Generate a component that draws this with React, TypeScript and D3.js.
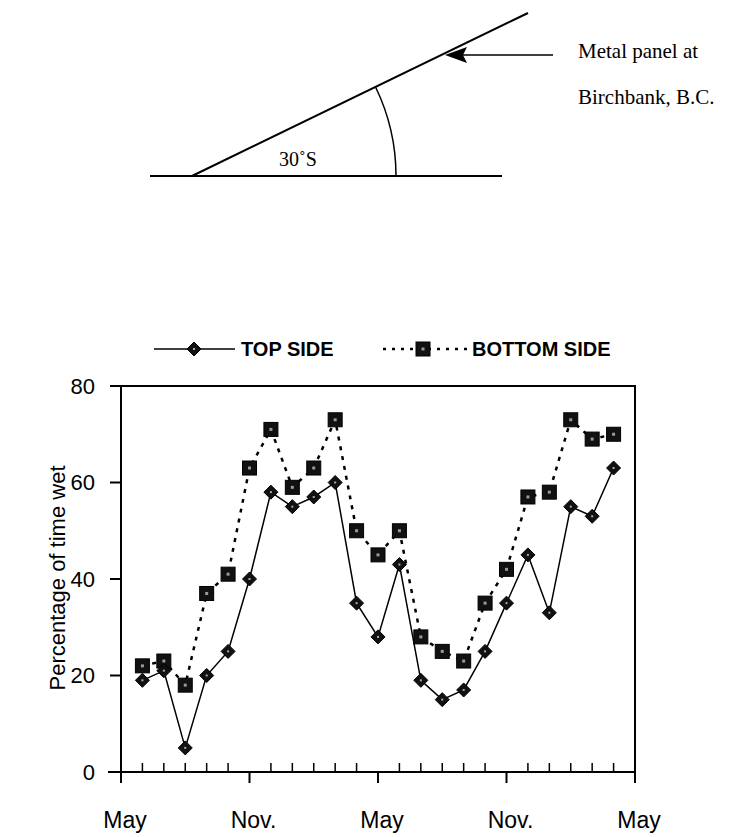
import React from "react";
import * as d3 from "d3";

const months = ["Jun","Jul","Aug","Sep","Oct","Nov","Dec","Jan","Feb","Mar","Apr","May","Jun","Jul","Aug","Sep","Oct","Nov","Dec","Jan","Feb","Mar","Apr"];
const topSide = [19, 21, 5, 20, 25, 40, 58, 55, 57, 60, 35, 28, 43, 19, 15, 17, 25, 35, 45, 33, 55, 53, 63];
const bottomSide = [22, 23, 18, 37, 41, 63, 71, 59, 63, 73, 50, 45, 50, 28, 25, 23, 35, 42, 57, 58, 73, 69, 70];
const majorTicks = [0, 6, 12, 18, 24];
const majorLabels = ["May", "Nov.", "May", "Nov.", "May"];
const yTicks = [0, 20, 40, 60, 80];

const W = 734, H = 837;
const sans = "'Liberation Sans', Arial, sans-serif";
const serif = "'Liberation Serif', 'Times New Roman', serif";

export default function App() {
  const x = d3.scaleLinear().domain([0, 24]).range([121, 635]);
  const y = d3.scaleLinear().domain([0, 80]).range([772, 386]);
  const idx = months.map((_, i) => i + 1);

  const topPts = idx.map((m, i) => [m, topSide[i]] as [number, number]);
  const botPts = idx.map((m, i) => [m, bottomSide[i]] as [number, number]);
  const lineGen = d3.line<[number, number]>().x((d) => x(d[0])).y((d) => y(d[1]));

  const diamond = (cx: number, cy: number, key: string | number) => (
    <g key={key}>
      <path d={`M${cx},${cy - 7}L${cx + 7},${cy}L${cx},${cy + 7}L${cx - 7},${cy}Z`} fill="#111" stroke="#000" strokeWidth={1} />
      <rect x={cx - 1} y={cy - 1} width={2} height={2} fill="#aaa" />
    </g>
  );
  const square = (cx: number, cy: number, key: string | number) => (
    <g key={key}>
      <rect x={cx - 7} y={cy - 7} width={14} height={14} fill="#111" stroke="#000" strokeWidth={1} />
      <rect x={cx - 1.5} y={cy - 1.5} width={3} height={3} fill="#999" />
    </g>
  );

  const minor = idx.filter((m) => !majorTicks.includes(m));

  const ox = 192, oy = 176;
  const ex = 528, ey = 13;
  const ang = Math.atan2(oy - ey, ex - ox);
  const r = 204;
  const arcPath = `M${ox + r},${oy} A${r},${r} 0 0 0 ${ox + r * Math.cos(ang)},${oy - r * Math.sin(ang)}`;

  return (
    <svg width={W} height={H} style={{ position: "absolute", left: 0, top: 0, background: "#fff" }}>
      {/* top diagram */}
      <line x1={150} y1={176} x2={502} y2={176} stroke="#000" strokeWidth={2} />
      <line x1={ox} y1={oy} x2={ex} y2={ey} stroke="#000" strokeWidth={2} />
      <path d={arcPath} fill="none" stroke="#000" strokeWidth={1.5} />
      <text x={279} y={166} fontFamily={serif} fontSize={20}>30˚S</text>
      <line x1={462} y1={55} x2={553} y2={55} stroke="#000" strokeWidth={1.5} />
      <path d="M445,55 L467,47 L463,55 L467,63 Z" fill="#000" />
      <text x={578} y={58} fontFamily={serif} fontSize={21}>Metal panel at</text>
      <text x={578} y={104} fontFamily={serif} fontSize={21}>Birchbank, B.C.</text>

      {/* legend */}
      <line x1={154} y1={349} x2={235} y2={349} stroke="#000" strokeWidth={1.5} />
      {diamond(194, 349, "ld")}
      <text x={241} y={356} fontFamily={sans} fontWeight="bold" fontSize={20}>TOP SIDE</text>
      <line x1={383} y1={349} x2={470} y2={349} stroke="#000" strokeWidth={2.5} strokeDasharray="3,6" />
      {square(423, 349, "ls")}
      <text x={472} y={356} fontFamily={sans} fontWeight="bold" fontSize={20}>BOTTOM SIDE</text>

      {/* frame */}
      <line x1={110} y1={386} x2={636} y2={386} stroke="#000" strokeWidth={2} />
      <line x1={635} y1={385} x2={635} y2={783} stroke="#000" strokeWidth={2} />
      <line x1={121} y1={385} x2={121} y2={783} stroke="#000" strokeWidth={2} />
      <line x1={108} y1={772} x2={636} y2={772} stroke="#000" strokeWidth={2} />
      {yTicks.map((t) => (
        <g key={"y" + t}>
          <line x1={110} y1={y(t)} x2={121} y2={y(t)} stroke="#000" strokeWidth={2} />
          <text x={95} y={y(t)} dy="0.36em" textAnchor="end" fontFamily={sans} fontSize={22}>{t}</text>
        </g>
      ))}
      {majorTicks.map((t, i) => (
        <g key={"x" + t}>
          <line x1={x(t)} y1={772} x2={x(t)} y2={783} stroke="#000" strokeWidth={2} />
          <text x={x(t) + 4} y={828} textAnchor="middle" fontFamily={sans} fontSize={23}>{majorLabels[i]}</text>
        </g>
      ))}
      {minor.map((m) => (
        <line key={"m" + m} x1={x(m)} y1={772} x2={x(m)} y2={763} stroke="#000" strokeWidth={1.5} />
      ))}
      <text transform="translate(65,578) rotate(-90)" textAnchor="middle" fontFamily={sans} fontSize={22}>Percentage of time wet</text>

      {/* series */}
      <path d={lineGen(botPts) || ""} fill="none" stroke="#000" strokeWidth={2.5} strokeDasharray="4,6" />
      <path d={lineGen(topPts) || ""} fill="none" stroke="#000" strokeWidth={1.5} />
      {botPts.map((p, i) => square(x(p[0]), y(p[1]), "s" + i))}
      {topPts.map((p, i) => diamond(x(p[0]), y(p[1]), "d" + i))}
    </svg>
  );
}
